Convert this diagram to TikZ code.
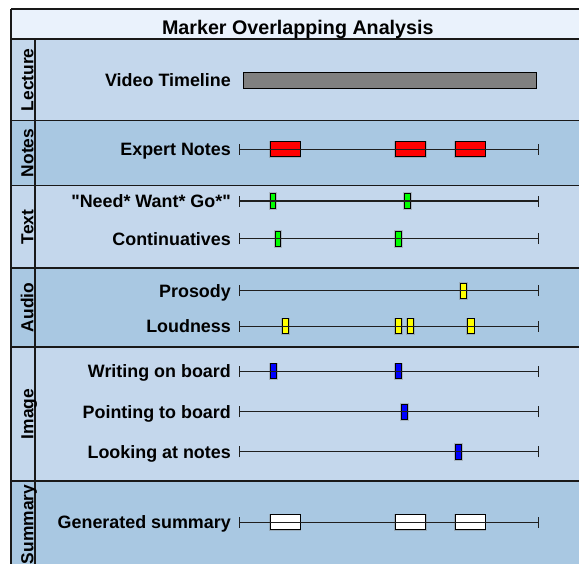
\documentclass[tikz,border=0pt]{standalone}
\usepackage{fontspec}
\setmainfont{Liberation Sans}
\definecolor{titlefill}{RGB}{234,242,252}
\definecolor{lanelight}{RGB}{196,215,236}
\definecolor{lanedark}{RGB}{169,200,226}
\definecolor{barfill}{RGB}{128,128,128}
\definecolor{mkred}{RGB}{255,0,0}
\definecolor{mkgreen}{RGB}{0,255,0}
\definecolor{mkyellow}{RGB}{255,255,0}
\definecolor{mkblue}{RGB}{0,0,255}
% a labelled timeline: key, y, label, marker colour, marker spans (x1/x2,...)
\newcommand\tlrow[5]{%
  \node[rowlabel] (lbl-#1) at (231,#2+6.4) {#3};
  \coordinate (s-#1) at (239.7,#2);
  \coordinate (e-#1) at (538.3,#2);
  \foreach \xa/\xb in {#5}
    \path[markbox, fill=#4] (\xa,#2-7.5) rectangle (\xb,#2+7.5);
  \draw[axisline] (s-#1) -- (e-#1);
  \draw[axisline] ([yshift=-5.5pt]s-#1) -- ([yshift=5.5pt]s-#1);
  \draw[axisline] ([yshift=-5.5pt]e-#1) -- ([yshift=5.5pt]e-#1);
}
\begin{document}
\begin{tikzpicture}[x=1pt,y=-1pt,
  frameline/.style={draw=black!90, line width=1.4pt},
  lanetitle/.style={rotate=90, anchor=base, inner sep=0,
    font=\bfseries\fontsize{17.4}{17.4}\selectfont},
  rowlabel/.style={anchor=base east, inner sep=0,
    font=\bfseries\fontsize{17.9}{18}\selectfont},
  axisline/.style={draw=black!88, line width=1.1pt},
  markbox/.style={draw=black, line width=0.8pt,
    preaction={draw=black!50, line width=2.6pt, opacity=0.4}}
]
\useasboundingbox (0,0) rectangle (579,563);

% pool background: title band and alternating lanes
\fill[titlefill] (11,9) rectangle (595,39);
\fill[lanelight] (11,39) rectangle (595,120.5);
\fill[lanedark]  (11,120.5) rectangle (595,185.5);
\fill[lanelight] (11,185.5) rectangle (595,268);
\fill[lanedark]  (11,268) rectangle (595,347);
\fill[lanelight] (11,347) rectangle (595,481);
\fill[lanedark]  (11,481) rectangle (595,570);

% frame lines
\draw[frameline] (11,9) -- (595,9);
\draw[frameline] (11,9) -- (11,570);
\draw[frameline] (35,39) -- (35,570);
\foreach \yy in {39,120.5,185.5,268,347,481}
  \draw[frameline] (11,\yy) -- (595,\yy);

% title
\node[anchor=base, inner sep=0, font=\bfseries\fontsize{19.7}{19.7}\selectfont]
  (title) at (297.8,34.3) {Marker Overlapping Analysis};

% lane titles
\node[lanetitle] (ln-lecture) at (33.3,79.8)  {Lecture};
\node[lanetitle] (ln-notes)   at (33.3,153)   {Notes};
\node[lanetitle] (ln-text)    at (33.3,226.8) {Text};
\node[lanetitle] (ln-audio)   at (33.3,307.5) {Audio};
\node[lanetitle] (ln-image)   at (33.3,414)   {Image};
\node[lanetitle] (ln-summary) at (33.3,524.5) {Summary};

% video timeline
\node[rowlabel] (lbl-video) at (231,86.6) {Video Timeline};
\path[draw=black, line width=0.9pt, fill=barfill] (243.5,72.8) rectangle (536,88.2);

% marker rows
\tlrow{notes}{149.3}{Expert Notes}{mkred}{270/300,395.3/425.7,455/485}
\tlrow{need}{201}{\textquotedbl Need* Want* Go*\textquotedbl}{mkgreen}{270/275.8,404/410.5}
\tlrow{cont}{238.7}{Continuatives}{mkgreen}{275.7/280.5,395.3/401.5}
\tlrow{pros}{290.7}{Prosody}{mkyellow}{460.3/466.7}
\tlrow{loud}{326.3}{Loudness}{mkyellow}{282.2/288.3,395.3/401.5,407.3/413.6,467.3/474}
\tlrow{writ}{371.3}{Writing on board}{mkblue}{270/276.2,395.3/401.5}
\tlrow{point}{411.7}{Pointing to board}{mkblue}{401/407.6}
\tlrow{look}{451.7}{Looking at notes}{mkblue}{455/461.6}
\tlrow{summ}{522.3}{Generated summary}{white}{270/300,395.3/425.7,455/485}
\end{tikzpicture}
\end{document}
